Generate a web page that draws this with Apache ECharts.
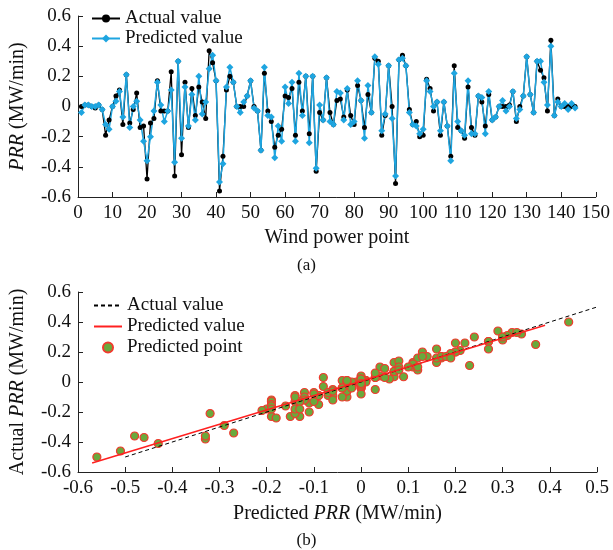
<!DOCTYPE html>
<html>
<head>
<meta charset="utf-8">
<script src="https://cdn.jsdelivr.net/npm/echarts/dist/echarts.min.js"></script>
<style>
  html, body { margin: 0; padding: 0; background: #fff; }
  #main { width: 613px; height: 550px; }
</style>
</head>
<body>
<div id="main"></div>
<script>
// PRR values per wind power point (1..144)
var actual = [
    0.00, 0.01, 0.01, 0.00, -0.01, 0.01, -0.02, -0.19, -0.09, 0.00,
    0.07, 0.11, -0.12, 0.21, -0.11, -0.02, 0.09, -0.14, -0.13, -0.48,
    -0.11, -0.08, 0.17, -0.03, -0.03, -0.03, 0.23, -0.46, 0.30, -0.32,
    0.16, -0.14, 0.12, -0.06, 0.13, 0.03, -0.08, 0.37, 0.29, 0.17,
    -0.56, -0.33, 0.11, 0.20, 0.16, 0.00, 0.00, 0.00, 0.07, 0.17,
    0.00, -0.03, -0.29, 0.22, -0.03, -0.10, -0.27, -0.19, -0.15, 0.07,
    0.06, 0.12, -0.19, 0.16, -0.03, 0.20, -0.18, 0.20, -0.43, -0.04,
    -0.09, 0.19, -0.04, -0.12, 0.04, 0.05, -0.07, 0.11, -0.06, -0.12,
    0.14, 0.04, -0.14, 0.08, -0.04, 0.32, 0.30, -0.19, -0.06, 0.27,
    0.00, -0.51, 0.31, 0.34, 0.27, -0.02, -0.12, -0.10, -0.20, -0.19,
    0.18, 0.12, -0.03, 0.03, -0.19, 0.03, -0.13, -0.33, 0.27, -0.14,
    -0.16, -0.21, 0.13, -0.14, -0.19, 0.07, 0.03, -0.13, 0.08, -0.09,
    -0.07, 0.00, 0.00, 0.00, 0.01, 0.10, -0.10, 0.00, 0.07, 0.33,
    0.08, -0.04, 0.30, 0.24, 0.19, -0.03, 0.44, -0.06, 0.05, 0.00,
    0.00, 0.00, 0.00, 0.00
];
var predicted = [
    -0.04, 0.01, 0.01, 0.00, 0.00, 0.01, -0.02, -0.12, -0.15, 0.00,
    0.035, 0.10, -0.07, 0.21, -0.14, 0.00, 0.035, -0.09, -0.23, -0.36,
    -0.20, -0.03, 0.16, 0.01, -0.10, -0.03, 0.11, -0.37, 0.30, -0.21,
    0.13, -0.13, 0.08, -0.09, 0.20, -0.05, 0.03, 0.25, 0.34, 0.17,
    -0.50, -0.38, 0.13, 0.26, 0.16, 0.00, -0.04, 0.03, 0.07, 0.17,
    -0.01, -0.03, -0.29, 0.26, -0.06, -0.07, -0.34, -0.13, -0.23, 0.13,
    0.02, 0.16, -0.23, 0.22, -0.06, 0.20, -0.24, 0.20, -0.41, 0.01,
    -0.09, 0.19, -0.10, -0.12, 0.10, 0.09, -0.09, 0.12, -0.12, -0.10,
    0.17, 0.04, -0.21, 0.14, -0.04, 0.33, 0.28, -0.16, -0.05, 0.27,
    -0.08, -0.46, 0.31, 0.32, 0.27, -0.04, -0.12, -0.13, -0.18, -0.15,
    0.17, 0.10, 0.00, 0.03, -0.16, 0.03, -0.13, -0.36, 0.22, -0.10,
    -0.16, -0.19, 0.17, -0.18, -0.18, 0.07, 0.06, -0.18, 0.10, -0.09,
    -0.07, 0.00, 0.04, -0.03, 0.00, 0.10, -0.08, -0.02, 0.07, 0.33,
    0.08, -0.04, 0.30, 0.30, 0.16, 0.01, 0.40, -0.06, 0.03, 0.00,
    0.02, -0.02, 0.02, -0.01
];

// reference line y = x and the fitted line (end points)
var identityX = [-0.5, 0.5];
var fitX = [-0.57, 0.39];
var fitY = [-0.54, 0.378];

var FONT = 'Liberation Serif';
var AXIS_COLOR = '#222';
var BLUE = '#1ea5e0';

function axisBase() {
    return {
        axisLine: { onZero: false, lineStyle: { color: AXIS_COLOR, width: 1 } },
        axisTick: { inside: true, length: 5, lineStyle: { color: AXIS_COLOR } },
        axisLabel: { color: '#111', fontFamily: FONT, fontSize: 19, margin: 7 },
        splitLine: { show: false },
        nameLocation: 'middle',
        nameTextStyle: {
            color: '#111', fontFamily: FONT, fontSize: 20,
            rich: { i: { fontFamily: FONT, fontSize: 20, fontStyle: 'italic', color: '#111' } }
        }
    };
}

// legend entries of the bottom panel: plain lines, no marker
var hideMarker = { opacity: 0, borderWidth: 0 };

var chart = echarts.init(document.getElementById('main'));

var option = {
    animation: false,
    backgroundColor: '#fff',
    title: [
        { text: '(a)', left: 'center', top: 252, textStyle: { fontFamily: FONT, fontSize: 17, fontWeight: 'normal', color: '#111' } },
        { text: '(b)', left: 'center', top: 527, textStyle: { fontFamily: FONT, fontSize: 17, fontWeight: 'normal', color: '#111' } }
    ],
    legend: [{
        orient: 'vertical', left: 86, top: 4, itemGap: 1,
        itemWidth: 28, itemHeight: 10,
        data: ['Actual value', 'Predicted value'],
        textStyle: { fontFamily: FONT, fontSize: 19, color: '#111' }
    }, {
        orient: 'vertical', left: 88, top: 291, itemGap: 2,
        itemWidth: 28, itemHeight: 10,
        data: [
            { name: 'b_Actual value', itemStyle: hideMarker },
            { name: 'b_Predicted value', itemStyle: hideMarker },
            { name: 'b_Predicted point' }
        ],
        formatter: function (name) { return name.replace(/^b_/, ''); },
        textStyle: { fontFamily: FONT, fontSize: 19, color: '#111' }
    }],
    grid: [
        { left: 76, right: 15, top: 16, height: 181 },
        { left: 76, right: 16, top: 292, height: 180 }
    ],
    xAxis: [
        Object.assign(axisBase(), {
            gridIndex: 0, type: 'value', min: 0, max: 150, interval: 10,
            name: 'Wind power point', nameGap: 31
        }),
        Object.assign(axisBase(), {
            gridIndex: 1, type: 'value', min: -0.6, max: 0.5, interval: 0.1,
            name: 'Predicted {i|PRR} (MW/min)', nameGap: 32
        })
    ],
    yAxis: [
        Object.assign(axisBase(), {
            gridIndex: 0, type: 'value', min: -0.6, max: 0.6, interval: 0.2,
            name: '{i|PRR} (MW/min)', nameGap: 50
        }),
        Object.assign(axisBase(), {
            gridIndex: 1, type: 'value', min: -0.6, max: 0.6, interval: 0.2,
            name: 'Actual {i|PRR} (MW/min)', nameGap: 50
        })
    ],
    series: [{
        name: 'Actual value',
        type: 'line',
        xAxisIndex: 0, yAxisIndex: 0,
        data: actual.map(function (v, i) { return [i + 1, v]; }),
        symbol: 'circle', symbolSize: 5,
        itemStyle: { color: '#000' },
        lineStyle: { color: '#000', width: 1.3 }
    }, {
        name: 'Predicted value',
        type: 'line',
        xAxisIndex: 0, yAxisIndex: 0,
        data: predicted.map(function (v, i) { return [i + 1, v]; }),
        symbol: 'diamond', symbolSize: 7,
        itemStyle: { color: BLUE },
        lineStyle: { color: BLUE, width: 1.5 }
    }, {
        name: 'b_Predicted point',
        type: 'scatter',
        xAxisIndex: 1, yAxisIndex: 1,
        data: actual.map(function (v, i) { return [v, predicted[i]]; }),
        symbol: 'circle', symbolSize: 8,
        itemStyle: { color: '#6aa93c', borderColor: '#f03a2e', borderWidth: 1.2, opacity: 1 }
    }, {
        name: 'b_Actual value',
        type: 'line',
        xAxisIndex: 1, yAxisIndex: 1,
        data: identityX.map(function (v) { return [v, v]; }),
        symbol: 'none',
        itemStyle: { color: '#000' },
        lineStyle: { color: '#000', width: 1, type: [4, 3] }
    }, {
        name: 'b_Predicted value',
        type: 'line',
        xAxisIndex: 1, yAxisIndex: 1,
        data: fitX.map(function (v, i) { return [v, fitY[i]]; }),
        symbol: 'none',
        itemStyle: { color: '#ff2020' },
        lineStyle: { color: '#ff2020', width: 1.5 }
    }]
};

chart.setOption(option);
</script>
</body>
</html>
